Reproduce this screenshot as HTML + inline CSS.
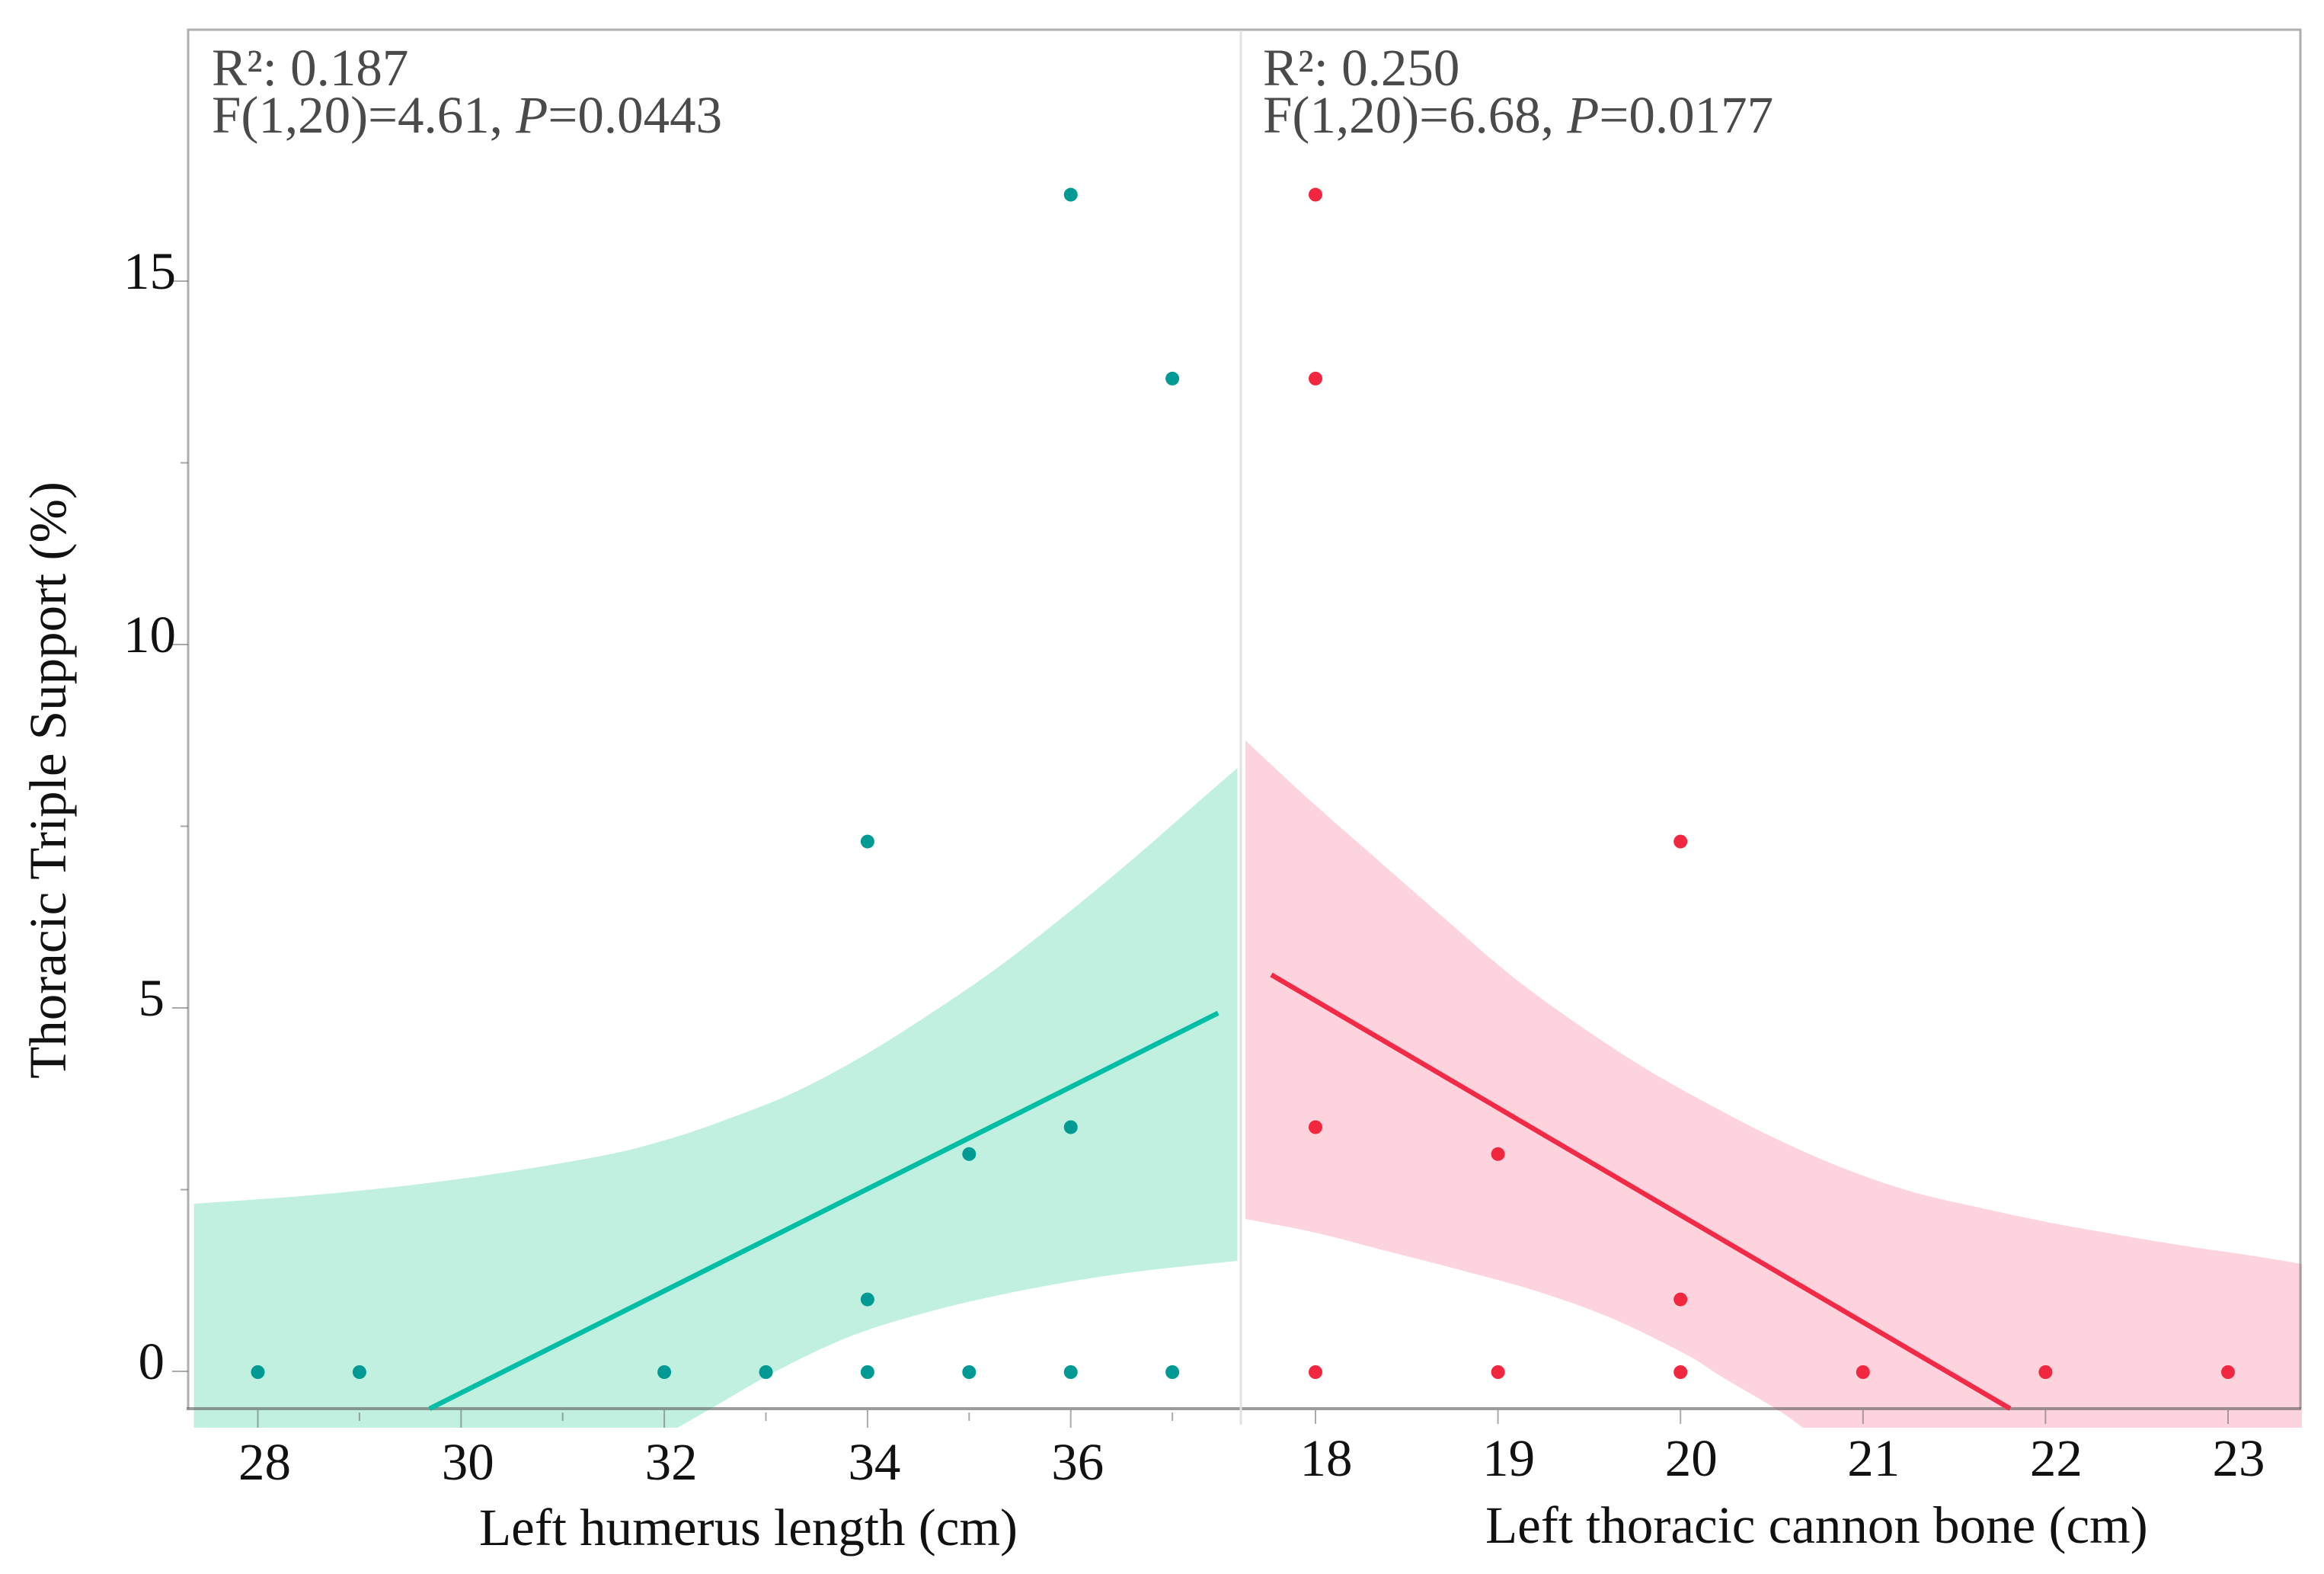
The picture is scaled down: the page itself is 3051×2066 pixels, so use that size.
<!DOCTYPE html>
<html lang="en">
<head>
<meta charset="utf-8">
<title>Thoracic Triple Support regression panels</title>
<style>
  html, body { margin: 0; padding: 0; background: #ffffff; }
  body { width: 3051px; height: 2066px; overflow: hidden; }
  svg { display: block; }
  text { font-family: "Liberation Serif", "Times New Roman", serif; font-size: 69px; }
  .stat { fill: #4a4a4a; }
  .lab { fill: #111111; }
</style>
</head>
<body>
<svg id="chart" xmlns="http://www.w3.org/2000/svg" width="3051" height="2066" viewBox="0 0 3051 2066">
  <rect x="0" y="0" width="3051" height="2066" fill="#ffffff"/>
  <g id="ribbons"></g>
  <g id="axes"></g>
  <g id="lines"></g>
  <g id="dots"></g>
  <g id="labels"></g>
  <text class="stat" x="278" y="112">R²: 0.187</text>
  <text class="stat" x="278" y="174">F(1,20)=4.61, <tspan font-style="italic">P</tspan>=0.0443</text>
  <text class="stat" x="1658" y="112">R²: 0.250</text>
  <text class="stat" x="1658" y="174">F(1,20)=6.68, <tspan font-style="italic">P</tspan>=0.0177</text>
  <text class="lab" x="629" y="2028">Left humerus length (cm)</text>
  <text class="lab" x="1950" y="2025">Left thoracic cannon bone (cm)</text>
  <text class="lab" text-anchor="middle" transform="translate(86 1024) rotate(-90)">Thoracic Triple Support (%)</text>
</svg>
<script>
// ---- Data ----
const yTickValues = [0, 5, 10, 15];
const yMinorValues = [2.5, 7.5, 12.5];
const leftTickLabels = [28, 30, 32, 34, 36];
const leftMinorTicks = [29, 31, 33, 35, 37];
const rightTickLabels = [18, 19, 20, 21, 22, 23];

const leftDotX = [28, 29, 32, 33, 34, 35, 36, 37, 34, 34, 35, 36, 36, 37];
const leftDotY = [0, 0, 0, 0, 0, 0, 0, 0, 1, 7.3, 3, 3.37, 16.2, 13.67];
const rightDotX = [18, 19, 20, 21, 22, 23, 20, 20, 18, 19, 18, 18];
const rightDotY = [0, 0, 0, 0, 0, 0, 1, 7.3, 3.37, 3, 13.67, 16.2];

const leftFitX = [29.69, 37.45];
const leftFitY = [-0.503, 4.94];
const rightFitX = [17.758, 21.806];
const rightFitY = [5.467, -0.503];

const leftUpperX = [27.37, 28.68, 30.01, 31.35, 32.02, 32.58, 33.25, 33.93, 34.59, 35.26, 35.93, 36.60, 37.27, 37.64];
const leftUpperY = [2.317, 2.453, 2.662, 2.966, 3.197, 3.459, 3.830, 4.329, 4.906, 5.545, 6.270, 7.044, 7.862, 8.312];
const leftLowerX = [37.64, 36.72, 36.00, 35.29, 34.57, 33.85, 33.14, 32.47, 32.13];
const leftLowerY = [1.530, 1.394, 1.247, 1.059, 0.818, 0.503, 0.042, -0.493, -0.765];
const leftCornerX = [27.37];
const leftCornerY = [-0.765];

const rightUpperX = [17.616, 17.967, 18.342, 18.714, 19.085, 19.457, 19.832, 20.204, 20.517, 20.888, 21.264, 21.635, 22.007, 22.378, 22.754, 23.125, 23.405];
const rightUpperY = [8.690, 7.872, 7.044, 6.226, 5.430, 4.750, 4.140, 3.620, 3.218, 2.809, 2.484, 2.264, 2.065, 1.897, 1.740, 1.604, 1.488];
const rightLowerX = [20.671, 20.529, 20.225, 20.024, 19.620, 19.215, 18.810, 18.405, 18.000, 17.616];
const rightLowerY = [-0.765, -0.514, -0.063, 0.252, 0.744, 1.111, 1.394, 1.656, 1.918, 2.107];
const rightCornerX = [23.405];
const rightCornerY = [-0.765];

// ---- Axis functions ----
const xLeft = v => 338.5 + (v - 28) * 133.4;
const xRight = v => 1727 + (v - 18) * 239.6;
const yScale = v => 1801 - v * 95.4;

const NS = 'http://www.w3.org/2000/svg';
function mk(tag, parentId, attrs) {
  const el = document.createElementNS(NS, tag);
  for (const k in attrs) el.setAttribute(k, attrs[k]);
  document.getElementById(parentId).appendChild(el);
  return el;
}
// Smooth Catmull-Rom curve through screen points, returned as cubic segments
function spline(fx, xs, ys) {
  const p = xs.map((v, i) => [fx(v), yScale(ys[i])]);
  let d = '';
  for (let i = 0; i < p.length - 1; i++) {
    const a = p[Math.max(i - 1, 0)], b = p[i], c = p[i + 1], e = p[Math.min(i + 2, p.length - 1)];
    const c1 = [b[0] + (c[0] - a[0]) / 6, b[1] + (c[1] - a[1]) / 6];
    const c2 = [c[0] - (e[0] - b[0]) / 6, c[1] - (e[1] - b[1]) / 6];
    d += ' C' + c1[0].toFixed(1) + ' ' + c1[1].toFixed(1) + ' ' + c2[0].toFixed(1) + ' ' + c2[1].toFixed(1) + ' ' + c[0].toFixed(1) + ' ' + c[1].toFixed(1);
  }
  return d;
}
const pt = (fx, x, y) => fx(x).toFixed(1) + ' ' + yScale(y).toFixed(1);

// ---- Ribbons ----
const leftRibbonPath = 'M' + pt(xLeft, leftUpperX[0], leftUpperY[0]) + spline(xLeft, leftUpperX, leftUpperY) +
  ' L' + pt(xLeft, leftLowerX[0], leftLowerY[0]) + spline(xLeft, leftLowerX, leftLowerY) +
  ' L' + pt(xLeft, leftCornerX[0], leftCornerY[0]) + ' Z';
const rightRibbonPath = 'M' + pt(xRight, rightUpperX[0], rightUpperY[0]) + spline(xRight, rightUpperX, rightUpperY) +
  ' L' + pt(xRight, rightCornerX[0], rightCornerY[0]) +
  ' L' + pt(xRight, rightLowerX[0], rightLowerY[0]) + spline(xRight, rightLowerX, rightLowerY) + ' Z';

let el = mk('path', 'ribbons', { d: leftRibbonPath, fill: '#c1f0e1' });


el = mk('path', 'ribbons', { d: rightRibbonPath, fill: '#fdd3dd' });



// ---- Axes frame ----
const frameColor = 'rgba(110,110,110,0.55)';
el = mk('path', 'axes', { d: 'M247 1849 V39 H3020 V1849', fill: 'none', stroke: frameColor, 'stroke-width': 3 });


el = mk('line', 'axes', { x1: 245, x2: 3021, y1: 1849, y2: 1849, stroke: 'rgba(90,90,90,0.6)', 'stroke-width': 4 });


el = mk('line', 'axes', { x1: 1629, x2: 1629, y1: 40, y2: 1870, stroke: '#e2e2e2', 'stroke-width': 3 });



// ---- Ticks ----
const tickColor = 'rgba(100,100,100,0.55)';
yTickValues.forEach(v => {
  const t = mk('line', 'axes', { x1: 226, x2: 247, y1: yScale(v) - 1, y2: yScale(v) - 1, stroke: tickColor, 'stroke-width': 2 });
  
  
  const a = mk('text', 'labels', { x: String(v).length > 1 ? 231 : 216, y: yScale(v) + 9, 'text-anchor': 'end', class: 'lab' });
  a.textContent = v;
  
  
});
yMinorValues.forEach(v => {
  const t = mk('line', 'axes', { x1: 237, x2: 247, y1: yScale(v) - 1, y2: yScale(v) - 1, stroke: tickColor, 'stroke-width': 2 });
  
  
});
leftTickLabels.forEach(v => {
  const t = mk('line', 'axes', { x1: xLeft(v), x2: xLeft(v), y1: 1851, y2: 1874, stroke: tickColor, 'stroke-width': 2 });
  
  
  const a = mk('text', 'labels', { x: xLeft(v) + 9, y: 1942, 'text-anchor': 'middle', class: 'lab' });
  a.textContent = v;
  
  
});
leftMinorTicks.forEach(v => {
  const t = mk('line', 'axes', { x1: xLeft(v), x2: xLeft(v), y1: 1854, y2: 1865, stroke: tickColor, 'stroke-width': 2 });
  
  
});
rightTickLabels.forEach(v => {
  const t = mk('line', 'axes', { x1: xRight(v), x2: xRight(v), y1: 1851, y2: 1869, stroke: tickColor, 'stroke-width': 2 });
  
  
  const a = mk('text', 'labels', { x: xRight(v) + 14, y: 1937, 'text-anchor': 'middle', class: 'lab' });
  a.textContent = v;
  
  
});

// ---- Fit lines ----
el = mk('line', 'lines', { x1: xLeft(leftFitX[0]), y1: yScale(leftFitY[0]), x2: xLeft(leftFitX[1]), y2: yScale(leftFitY[1]), stroke: '#00bda5', 'stroke-width': 6.5 });


el = mk('line', 'lines', { x1: xRight(rightFitX[0]), y1: yScale(rightFitY[0]), x2: xRight(rightFitX[1]), y2: yScale(rightFitY[1]), stroke: '#f12a47', 'stroke-width': 6.5 });



// ---- Points ----
leftDotX.forEach((v, i) => {
  const c = mk('circle', 'dots', { cx: xLeft(v), cy: yScale(leftDotY[i]), r: 9, fill: '#009a95' });
  
  
});
rightDotX.forEach((v, i) => {
  const c = mk('circle', 'dots', { cx: xRight(v), cy: yScale(rightDotY[i]), r: 9, fill: '#f0273f' });
  
  
});
</script>
</body>
</html>
